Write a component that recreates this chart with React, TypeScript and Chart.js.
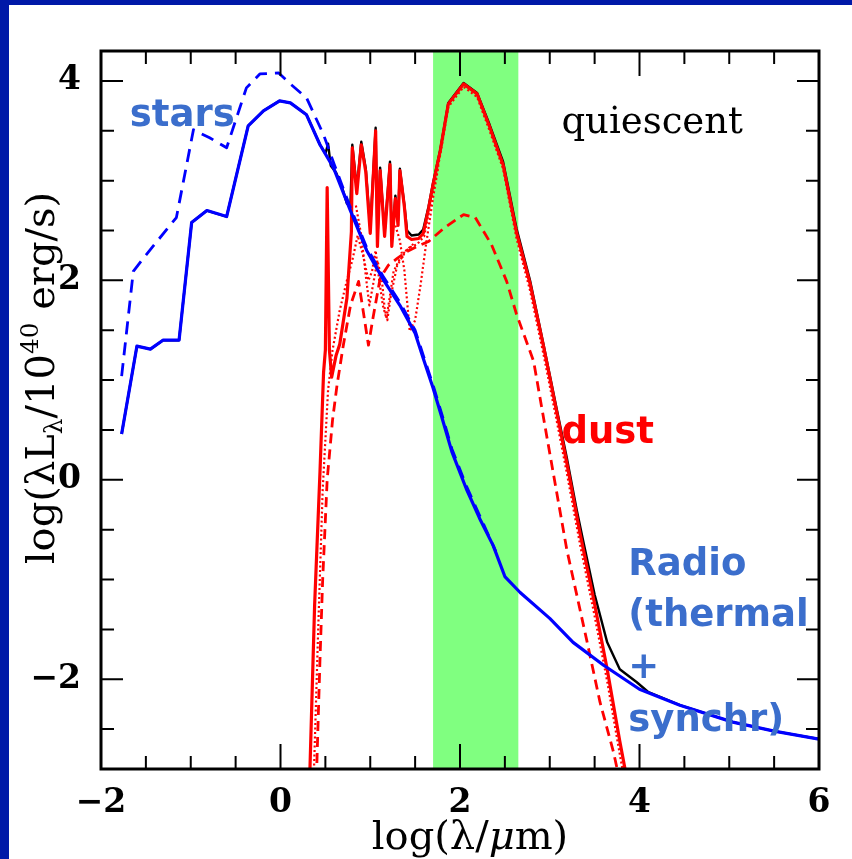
import React, { useEffect, useRef } from 'react';
import { Chart, registerables } from 'chart.js';

Chart.register(...registerables);

// ---- axes ----
const xRange = [-2, 6];
const yRange = [-2.9, 4.3];
const xTickValues = [-2, 0, 2, 4, 6];
const yTickValues = [-2, 0, 2, 4];
const minorStep = 0.5;
const farIrBand = [1.7, 2.65];

// ---- stars (attenuated) + radio, solid blue ----
const starsX = [-1.77, -1.6, -1.45, -1.31, -1.13, -0.99, -0.82, -0.6, -0.36, -0.19, -0.01, 0.11, 0.29, 0.44, 0.59, 0.77, 0.96, 1.15, 1.33, 1.5, 1.59, 1.7, 1.8, 1.91, 2.07, 2.22, 2.37, 2.5, 2.67, 3.0, 3.26, 3.6, 4.0, 4.45, 5.04, 5.5, 6.0];
const starsY = [0.46, 1.34, 1.31, 1.4, 1.4, 2.58, 2.7, 2.64, 3.55, 3.7, 3.8, 3.78, 3.66, 3.36, 3.13, 2.72, 2.3, 2.0, 1.75, 1.47, 1.22, 0.92, 0.62, 0.28, -0.09, -0.39, -0.66, -0.97, -1.13, -1.39, -1.63, -1.86, -2.1, -2.26, -2.43, -2.52, -2.6];

// ---- stars (unattenuated), dashed blue ----
const starsDashX = [-1.77, -1.64, -1.53, -1.16, -0.97, -0.79, -0.6, -0.38, -0.23, -0.02, 0.11, 0.29, 0.48, 0.6, 0.77, 0.96, 1.15, 1.33, 1.5, 1.59, 1.7, 1.8, 1.91, 2.07, 2.22, 2.4];
const starsDashY = [1.04, 2.09, 2.22, 2.63, 3.51, 3.43, 3.33, 3.93, 4.07, 4.08, 3.97, 3.83, 3.46, 3.16, 2.75, 2.33, 2.03, 1.78, 1.5, 1.25, 0.95, 0.65, 0.31, -0.06, -0.36, -0.72];

// ---- dust total, solid red ----
const dustX = [0.325, 0.38, 0.44, 0.48, 0.5, 0.52, 0.545, 0.57, 0.62, 0.66, 0.74, 0.79, 0.8, 0.85, 0.9, 0.95, 1.0, 1.06, 1.08, 1.11, 1.16, 1.22, 1.24, 1.28, 1.31, 1.33, 1.38, 1.41, 1.46, 1.54, 1.59, 1.65, 1.7, 1.78, 1.87, 2.04, 2.19, 2.33, 2.48, 2.63, 2.78, 2.93, 3.08, 3.19, 3.34, 3.49, 3.64, 3.78, 3.87];
const dustY = [-3.0, -1.26, 0.08, 1.08, 1.3, 2.93, 1.3, 1.03, 1.25, 1.36, 1.82, 2.49, 3.33, 2.87, 3.36, 3.09, 2.47, 3.5, 2.34, 3.1, 2.44, 3.16, 2.34, 2.82, 2.55, 3.1, 2.74, 2.44, 2.41, 2.42, 2.47, 2.72, 2.96, 3.3, 3.77, 3.97, 3.87, 3.54, 3.16, 2.48, 1.97, 1.34, 0.67, 0.17, -0.55, -1.2, -1.9, -2.62, -3.05];

// ---- diffuse dust component, dashed red ----
const dustDashX = [0.4, 0.44, 0.47, 0.52, 0.58, 0.63, 0.7, 0.78, 0.87, 0.92, 0.98, 1.03, 1.11, 1.2, 1.3, 1.41, 1.52, 1.65, 1.83, 2.04, 2.17, 2.35, 2.52, 2.63, 2.82, 2.97, 3.19, 3.41, 3.56, 3.71, 3.8];
const dustDashY = [-3.0, -1.8, -1.0, 0.0, 0.6, 0.95, 1.35, 1.75, 1.99, 1.7, 1.35, 1.62, 2.02, 2.15, 2.22, 2.29, 2.34, 2.39, 2.53, 2.66, 2.63, 2.36, 1.99, 1.66, 1.19, 0.42, -0.7, -1.6, -2.23, -2.73, -3.1];

// ---- dust sub-components, dotted red ----
const dotAX = [0.37, 0.42, 0.47, 0.53, 0.58, 0.66, 0.74, 0.8, 0.86, 0.92, 0.98, 1.02, 1.06, 1.1, 1.14, 1.18, 1.22, 1.26, 1.32, 1.38, 1.44, 1.52, 1.6, 1.7, 1.78, 1.87, 2.04, 2.19, 2.33, 2.48, 2.63, 2.78, 2.93, 3.08, 3.19, 3.34, 3.49, 3.64, 3.78, 3.85];
const dotAY = [-3.0, -1.5, -0.1, 0.9, 1.3, 1.7, 2.0, 2.2, 2.45, 2.25, 2.0, 2.09, 2.3, 2.0, 1.75, 1.62, 1.85, 2.09, 2.2, 2.28, 2.33, 2.36, 2.44, 2.9, 3.26, 3.74, 3.94, 3.84, 3.5, 3.12, 2.42, 1.9, 1.26, 0.58, 0.07, -0.66, -1.32, -2.02, -2.75, -3.1];
const dotBX = [1.28, 1.33, 1.38, 1.44, 1.5, 1.56, 1.62, 1.7, 1.76];
const dotBY = [2.55, 2.4, 2.1, 1.49, 1.6, 1.95, 2.35, 2.83, 3.15];
const dotCX = [0.84, 0.9, 0.95, 0.99, 1.03, 1.08, 1.13, 1.16, 1.19, 1.23, 1.3, 1.4, 1.5];
const dotCY = [2.75, 2.45, 2.05, 1.75, 1.95, 2.2, 2.0, 1.72, 1.6, 1.85, 2.15, 2.3, 2.38];

// ---- total, solid black ----
const totalX = [-1.77, -1.6, -1.45, -1.31, -1.13, -0.99, -0.82, -0.6, -0.36, -0.19, -0.01, 0.11, 0.29, 0.44, 0.5, 0.53, 0.56, 0.62, 0.68, 0.74, 0.78, 0.8, 0.85, 0.9, 0.95, 1.0, 1.06, 1.08, 1.11, 1.16, 1.22, 1.24, 1.28, 1.31, 1.33, 1.38, 1.41, 1.46, 1.54, 1.59, 1.65, 1.7, 1.78, 1.87, 2.04, 2.19, 2.33, 2.48, 2.63, 2.78, 2.93, 3.08, 3.19, 3.3, 3.37, 3.5, 3.64, 3.78, 3.97, 4.1, 4.45, 5.04, 5.5, 6.0];
const totalY = [0.46, 1.34, 1.31, 1.4, 1.4, 2.58, 2.7, 2.64, 3.55, 3.7, 3.8, 3.78, 3.66, 3.36, 3.27, 3.37, 3.15, 3.08, 2.95, 2.77, 2.78, 3.36, 2.92, 3.39, 3.12, 2.52, 3.53, 2.4, 3.13, 2.48, 3.19, 2.4, 2.85, 2.6, 3.12, 2.76, 2.5, 2.45, 2.46, 2.51, 2.74, 2.98, 3.31, 3.78, 3.98, 3.88, 3.56, 3.19, 2.52, 2.0, 1.36, 0.7, 0.22, -0.3, -0.6, -1.15, -1.63, -1.9, -2.03, -2.13, -2.26, -2.43, -2.52, -2.6];

// ---- annotation anchors (data coordinates) ----
const starsLabel = { text: 'stars', x: -1.68, y: 3.55 };
const quiescentLabel = { text: 'quiescent', x: 3.13, y: 3.48 };
const dustLabel = { text: 'dust', x: 3.13, y: 0.37 };
const radioLines = ['Radio', '(thermal', '+', 'synchr)'];
const radioLineY = [-0.955, -1.47, -1.99, -2.515];
const radioX = 3.875;

const BLUE = '#0000ff';
const RED = '#ff0000';
const LABEL_BLUE = '#3b6ecc';
const FRAME_BLUE = '#0019a8';

const pts = (xs: number[], ys: number[]) => xs.map((x, i) => ({ x, y: ys[i] }));
const fmt = (v: number | string) => {
  const n = Number(v);
  return n < 0 ? '\u2212' + Math.abs(n) : String(n);
};

type Seg = { t: string; s?: number; dy?: number; it?: boolean };
function drawSegs(ctx: CanvasRenderingContext2D, segs: Seg[], size: number, family: string, cx: number, cy: number, rot: number) {
  ctx.save();
  ctx.translate(cx, cy);
  ctx.rotate(rot);
  const fontFor = (sg: Seg) => `${sg.it ? 'italic ' : ''}${size * (sg.s ?? 1)}px ${family}`;
  let total = 0;
  for (const sg of segs) {
    ctx.font = fontFor(sg);
    total += ctx.measureText(sg.t).width;
  }
  let x = -total / 2;
  ctx.textAlign = 'left';
  ctx.textBaseline = 'alphabetic';
  ctx.fillStyle = '#000';
  for (const sg of segs) {
    ctx.font = fontFor(sg);
    ctx.fillText(sg.t, x, size * 0.27 + (sg.dy ?? 0) * size);
    x += ctx.measureText(sg.t).width;
  }
  ctx.restore();
}

const decorPlugin = {
  id: 'decor',
  beforeDraw(chart: any) {
    const { ctx, width, height } = chart;
    ctx.save();
    ctx.fillStyle = '#ffffff';
    ctx.fillRect(0, 0, width, height);
    ctx.fillStyle = FRAME_BLUE;
    ctx.fillRect(0, 0, width, 5);
    ctx.fillRect(0, 0, 9, height);
    ctx.restore();
  },
  beforeDatasetsDraw(chart: any) {
    const { ctx, chartArea: a, scales } = chart;
    const x0 = scales.x.getPixelForValue(farIrBand[0]);
    const x1 = scales.x.getPixelForValue(farIrBand[1]);
    ctx.save();
    ctx.fillStyle = '#80ff80';
    ctx.fillRect(x0, a.top, x1 - x0, a.bottom - a.top);
    ctx.restore();
  },
  afterDraw(chart: any) {
    const { ctx, chartArea: a, scales } = chart;
    const xs = scales.x;
    const ys = scales.y;
    ctx.save();
    // inward ticks on all four sides
    ctx.strokeStyle = '#000';
    ctx.lineWidth = 2;
    ctx.beginPath();
    for (let v = xRange[0]; v <= xRange[1] + 1e-9; v += minorStep) {
      const px = xs.getPixelForValue(v);
      const major = xTickValues.some((t) => Math.abs(t - v) < 1e-6);
      const len = major ? 25 : 13;
      ctx.moveTo(px, a.bottom);
      ctx.lineTo(px, a.bottom - len);
      ctx.moveTo(px, a.top);
      ctx.lineTo(px, a.top + len);
    }
    for (let v = Math.ceil(yRange[0] / minorStep) * minorStep; v <= yRange[1] + 1e-9; v += minorStep) {
      const py = ys.getPixelForValue(v);
      const major = yTickValues.some((t) => Math.abs(t - v) < 1e-6);
      const len = major ? 22 : 13;
      ctx.moveTo(a.left, py);
      ctx.lineTo(a.left + len, py);
      ctx.moveTo(a.right, py);
      ctx.lineTo(a.right - len, py);
    }
    ctx.stroke();
    ctx.lineWidth = 3;
    ctx.strokeRect(a.left, a.top, a.right - a.left, a.bottom - a.top);

    // annotations
    ctx.textAlign = 'left';
    ctx.textBaseline = 'alphabetic';
    ctx.font = 'bold 37px "DejaVu Sans"';
    ctx.fillStyle = LABEL_BLUE;
    ctx.fillText(starsLabel.text, xs.getPixelForValue(starsLabel.x), ys.getPixelForValue(starsLabel.y));
    radioLines.forEach((t, i) => {
      ctx.fillText(t, xs.getPixelForValue(radioX), ys.getPixelForValue(radioLineY[i]));
    });
    ctx.fillStyle = RED;
    ctx.fillText(dustLabel.text, xs.getPixelForValue(dustLabel.x), ys.getPixelForValue(dustLabel.y));
    ctx.fillStyle = '#000';
    ctx.font = '37px "DejaVu Serif"';
    ctx.fillText(quiescentLabel.text, xs.getPixelForValue(quiescentLabel.x), ys.getPixelForValue(quiescentLabel.y));

    // axis titles
    drawSegs(ctx, [{ t: 'log(\u03bb/' }, { t: '\u03bc', it: true }, { t: 'm)' }], 40, '"DejaVu Serif"', (a.left + a.right) / 2 + 10, 838, 0);
    drawSegs(
      ctx,
      [{ t: 'log(\u03bbL' }, { t: '\u03bb', s: 0.62, dy: 0.2 }, { t: '/10' }, { t: '40', s: 0.62, dy: -0.4 }, { t: ' erg/s)' }],
      40,
      '"DejaVu Serif"',
      43,
      378,
      -Math.PI / 2
    );
    ctx.restore();
  },
};

const tickFont = { family: '"DejaVu Serif"', size: 33, weight: 'bold' as const };

export default function App() {
  const ref = useRef<HTMLCanvasElement>(null);
  useEffect(() => {
    const canvas = ref.current;
    if (!canvas) return;
    const line = (data: { x: number; y: number }[], color: string, width: number, dash: number[], order: number) => ({
      data,
      borderColor: color,
      backgroundColor: color,
      borderWidth: width,
      borderDash: dash,
      borderJoinStyle: 'round' as const,
      pointRadius: 0,
      fill: false,
      tension: 0,
      clip: 0,
      order,
    });
    const chart = new Chart(canvas, {
      type: 'line',
      data: {
        datasets: [
          line(pts(starsX, starsY), BLUE, 3.2, [], 1),
          line(pts(starsDashX, starsDashY), BLUE, 2.8, [13, 8], 2),
          line(pts(dustX, dustY), RED, 3.2, [], 3),
          line(pts(dustDashX, dustDashY), RED, 2.8, [10, 6], 4),
          line(pts(dotAX, dotAY), RED, 2.2, [2, 2.5], 5),
          line(pts(dotBX, dotBY), RED, 2.2, [2, 2.5], 5),
          line(pts(dotCX, dotCY), RED, 2.2, [2, 2.5], 5),
          line(pts(totalX, totalY), '#000000', 2.4, [], 6),
        ] as any,
      },
      options: {
        responsive: false,
        animation: false,
        devicePixelRatio: 1,
        layout: { padding: { left: 9, right: 33, top: 51, bottom: 0 } },
        plugins: { legend: { display: false }, tooltip: { enabled: false }, title: { display: false } },
        scales: {
          x: {
            type: 'linear',
            min: xRange[0],
            max: xRange[1],
            grid: { display: false, drawTicks: false },
            border: { display: false },
            afterBuildTicks: (s: any) => {
              s.ticks = xTickValues.map((v) => ({ value: v }));
            },
            afterFit: (s: any) => {
              s.height = 90;
            },
            ticks: { padding: 15, font: tickFont, color: '#000', callback: fmt, maxRotation: 0, autoSkip: false },
          },
          y: {
            type: 'linear',
            min: yRange[0],
            max: yRange[1],
            grid: { display: false, drawTicks: false },
            border: { display: false },
            afterBuildTicks: (s: any) => {
              s.ticks = yTickValues.map((v) => ({ value: v }));
            },
            afterFit: (s: any) => {
              s.width = 92;
            },
            ticks: { padding: 20, font: tickFont, color: '#000', callback: fmt, autoSkip: false },
          },
        },
      } as any,
      plugins: [decorPlugin],
    });
    return () => chart.destroy();
  }, []);
  return (
    <div style={{ position: 'absolute', left: 0, top: 0, width: 852, height: 859, background: '#fff' }}>
      <canvas ref={ref} width={852} height={859} style={{ display: 'block', width: 852, height: 859 }} />
    </div>
  );
}
